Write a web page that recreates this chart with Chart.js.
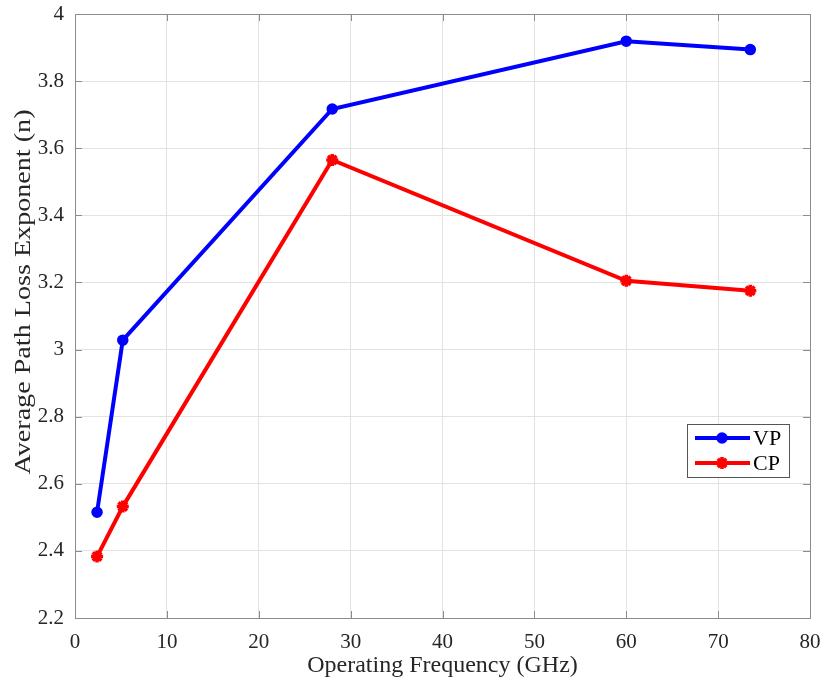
<!DOCTYPE html>
<html>
<head>
<meta charset="utf-8">
<script src="https://cdn.jsdelivr.net/npm/chart.js@4"></script>
<style>
  html, body { margin: 0; padding: 0; background: #fff; }
  #wrap { width: 825px; height: 686px; }
</style>
</head>
<body>
<div id="wrap"><canvas id="chart" width="825" height="686"></canvas></div>
<script>
// Dados do gráfico
const frequencies = [2.4, 5.2, 28, 60, 73.5];
const vpValues = [2.515, 3.028, 3.717, 3.919, 3.894];
const cpValues = [2.383, 2.532, 3.565, 3.205, 3.175];
const xTicks = [0, 10, 20, 30, 40, 50, 60, 70, 80];
const yTicks = [2.2, 2.4, 2.6, 2.8, 3, 3.2, 3.4, 3.6, 3.8, 4];
const xTitle = 'Operating Frequency (GHz)';
const yTitle = 'Average Path Loss Exponent (n)';

const fontFamily = '"Liberation Serif", "Times New Roman", serif';
const frameColor = '#8c8c8c';
const textColor = '#262626';

// Marcas de escala para dentro + caixa completa (estilo MATLAB)
const boxPlugin = {
    id: 'boxTicks',
    afterDatasetsDraw(chart) {
        const ctx = chart.ctx;
        const a = chart.chartArea;
        const xs = chart.scales.x, ys = chart.scales.y;
        ctx.save();
        ctx.strokeStyle = frameColor;
        ctx.lineWidth = 1;
        ctx.beginPath();
        xTicks.forEach(v => {
            const px = Math.round(xs.getPixelForValue(v)) + 0.5;
            ctx.moveTo(px, a.bottom); ctx.lineTo(px, a.bottom - 7);
            ctx.moveTo(px, a.top); ctx.lineTo(px, a.top + 7);
        });
        yTicks.forEach(v => {
            const py = Math.round(ys.getPixelForValue(v)) + 0.5;
            ctx.moveTo(a.left, py); ctx.lineTo(a.left + 7, py);
            ctx.moveTo(a.right, py); ctx.lineTo(a.right - 7, py);
        });
        ctx.stroke();
        ctx.strokeRect(Math.round(a.left) + 0.5, Math.round(a.top) + 0.5,
                       Math.round(a.right - a.left), Math.round(a.bottom - a.top));

        // Títulos dos eixos
        ctx.fillStyle = textColor;
        ctx.font = '24px ' + fontFamily;
        ctx.textAlign = 'center';
        ctx.textBaseline = 'middle';
        ctx.fillText(xTitle, (a.left + a.right) / 2, 666);
        const w = ctx.measureText(yTitle).width;
        ctx.translate(24, 292);
        ctx.rotate(-Math.PI / 2);
        ctx.scale(365 / w, 1);
        ctx.fillText(yTitle, 0, 0);
        ctx.restore();
    }
};

// Legenda dentro da área do gráfico
const legendPlugin = {
    id: 'insideLegend',
    afterDraw(chart) {
        const ctx = chart.ctx;
        const bx = 687, by = 424, bw = 102, bh = 53;
        ctx.save();
        ctx.fillStyle = '#fff';
        ctx.fillRect(bx, by, bw, bh);
        ctx.strokeStyle = '#555';
        ctx.lineWidth = 1;
        ctx.strokeRect(bx + 0.5, by + 0.5, bw, bh);
        chart.data.datasets.forEach((ds, i) => {
            const y = by + 14 + i * 25;
            ctx.strokeStyle = ds.borderColor;
            ctx.lineWidth = 4;
            ctx.beginPath();
            ctx.moveTo(bx + 8, y); ctx.lineTo(bx + 63, y);
            ctx.stroke();
            ctx.fillStyle = ds.pointBackgroundColor;
            ctx.lineWidth = ds.pointBorderWidth;
            Chart.helpers.drawPoint(ctx, {
                pointStyle: ds.pointStyle, radius: ds.pointRadius,
                borderWidth: ds.pointBorderWidth, rotation: 0
            }, bx + 35, y);
            ctx.fillStyle = '#000';
            ctx.font = '22px ' + fontFamily;
            ctx.textBaseline = 'middle';
            ctx.fillText(ds.label, bx + 66, y + 1);
        });
        ctx.restore();
    }
};

const ctx = document.getElementById('chart').getContext('2d');
new Chart(ctx, {
    type: 'line',
    data: {
        datasets: [
            {
                label: 'VP',
                data: frequencies.map((f, i) => ({ x: f, y: vpValues[i] })),
                borderColor: '#0000ff',
                backgroundColor: '#0000ff',
                pointBackgroundColor: '#0000ff',
                borderWidth: 4,
                pointStyle: 'circle',
                pointRadius: 5,
                pointBorderWidth: 1.5,
                tension: 0
            },
            {
                label: 'CP',
                data: frequencies.map((f, i) => ({ x: f, y: cpValues[i] })),
                borderColor: '#ff0000',
                backgroundColor: '#ff0000',
                pointBackgroundColor: '#ff0000',
                borderWidth: 4,
                pointStyle: 'star',
                pointRadius: 6,
                pointBorderWidth: 3.5,
                tension: 0
            }
        ]
    },
    options: {
        responsive: false,
        animation: false,
        layout: { padding: { left: 0, top: 14, right: 15, bottom: 0 } },
        plugins: {
            legend: { display: false },
            tooltip: { enabled: false }
        },
        scales: {
            x: {
                type: 'linear',
                min: 0, max: 80,
                afterBuildTicks: s => { s.ticks = xTicks.map(v => ({ value: v })); },
                afterFit: s => { s.height = 68; s.paddingLeft = 0; s.paddingRight = 0; },
                grid: { color: '#e3e3e3', drawTicks: false },
                border: { display: false },
                ticks: {
                    padding: 12,
                    color: textColor,
                    font: { family: fontFamily, size: 21 }
                }
            },
            y: {
                type: 'linear',
                min: 2.2, max: 4,
                afterBuildTicks: s => { s.ticks = yTicks.map(v => ({ value: v })); },
                afterFit: s => { s.width = 75; s.paddingTop = 0; s.paddingBottom = 0; },
                grid: { color: '#e3e3e3', drawTicks: false },
                border: { display: false },
                ticks: {
                    padding: 11,
                    color: textColor,
                    font: { family: fontFamily, size: 21 },
                    callback: v => String(Math.round(v * 10) / 10)
                }
            }
        }
    },
    plugins: [boxPlugin, legendPlugin]
});
</script>
</body>
</html>
